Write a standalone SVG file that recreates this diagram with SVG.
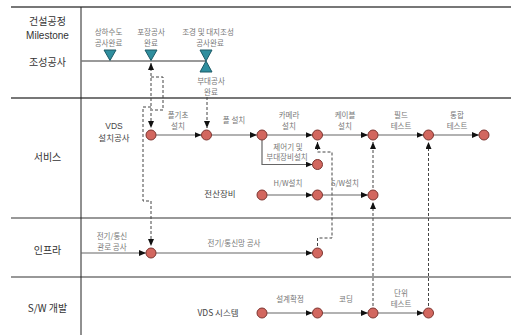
<svg xmlns="http://www.w3.org/2000/svg" width="511" height="335" viewBox="0 0 511 335">
<style>
.lane{font-family:"Noto Sans CJK KR","Liberation Sans",sans-serif;font-size:10px;fill:#333;text-anchor:middle}
.mid{font-family:"Noto Sans CJK KR","Liberation Sans",sans-serif;font-size:8.5px;fill:#444;text-anchor:middle}
.sm{font-family:"Noto Sans CJK KR","Liberation Sans",sans-serif;font-size:7.5px;fill:#777;text-anchor:middle}
.node{fill:#d2675f;stroke:#7d3530;stroke-width:1}
.ms{fill:#2f8e9e;stroke:#1c5a66;stroke-width:1}
.flow{fill:none;stroke:#666;stroke-width:1.2;marker-end:url(#ah)}
.dash{fill:none;stroke:#444;stroke-width:1;stroke-dasharray:3 2}
.grid{stroke:#333;stroke-width:1.2}
</style>
<defs>
<marker id="ah" markerUnits="userSpaceOnUse" markerWidth="7" markerHeight="6" refX="7" refY="3" orient="auto">
<path d="M0,0 L7,3 L0,6 Z" fill="#111"/>
</marker>
<marker id="ahs" markerUnits="userSpaceOnUse" markerWidth="7" markerHeight="6" refX="0" refY="3" orient="auto">
<path d="M7,0 L0,3 L7,6 Z" fill="#111"/>
</marker>
</defs>
<rect width="511" height="335" fill="#fff"/>
<g id="grid">
<line x1="11" y1="7" x2="511" y2="7" stroke="#777" stroke-width="2"/>
<line x1="11" y1="98" x2="511" y2="98" stroke="#777" stroke-width="2"/>
<line x1="11" y1="218" x2="511" y2="218" class="grid"/>
<line x1="11" y1="277" x2="511" y2="277" class="grid"/>
<line x1="81" y1="7" x2="81" y2="335" stroke="#222" stroke-width="1"/>
<line x1="81" y1="61" x2="206" y2="61" stroke="#777" stroke-width="1.3"/>
</g>
<g id="lanes">
<text class="lane" x="47.5" y="25">건설공정</text>
<text class="lane" x="47.5" y="38.5" style="font-family:'Liberation Sans',sans-serif">Milestone</text>
<text class="lane" x="47.5" y="66">조성공사</text>
<text class="lane" x="47.5" y="161">서비스</text>
<text class="lane" x="47.5" y="254">인프라</text>
<text class="lane" x="47.5" y="312">S/W 개발</text>
</g>
<g id="connectors">
<path class="dash" d="M151,63 V128" marker-start="url(#ahs)" marker-end="url(#ah)"/>
<path class="dash" d="M151,77 H163 V110 H152"/>
<path class="dash" d="M151,107 H143 V201 H151 V246" marker-end="url(#ah)"/>
<path class="dash" d="M207,97 V128" marker-end="url(#ah)"/>
<path class="dash" d="M317.5,246 V238 H332 V152 H317.5 V142" marker-end="url(#ah)"/>
<path class="dash" d="M373,306 V202" marker-end="url(#ah)"/>
<path class="dash" d="M373,188 V142" marker-end="url(#ah)"/>
<path class="dash" d="M428.5,306 V142" marker-end="url(#ah)"/>
<path class="flow" d="M156,135 H201.5"/>
<path class="flow" d="M211.5,135 H257"/>
<path class="flow" d="M267,135 H312.5"/>
<path class="flow" d="M322.5,135 H368"/>
<path class="flow" d="M378,135 H423.5"/>
<path class="flow" d="M433.5,135 H479"/>
<path class="flow" d="M262,140 V164.5 H312.5"/>
<path class="flow" d="M267,195 H312.5"/>
<path class="flow" d="M322.5,195 H368"/>
<path class="flow" d="M81,253 H146"/>
<path class="flow" d="M156,253 H312.5"/>
<path class="flow" d="M267,313 H312.5"/>
<path class="flow" d="M322.5,313 H368"/>
<path class="flow" d="M378,313 H423.5"/>
</g>
<g id="milestones">
<path class="ms" d="M104,50 H116 L110,60.5 Z"/>
<path class="ms" d="M145,50 H157 L151,60.5 Z"/>
<path class="ms" d="M200,50 H212 L206,61 Z"/>
<path class="ms" d="M206,61 L212,72 H200 Z"/>
<text class="sm" x="108.5" y="35">상하수도</text>
<text class="sm" x="108.5" y="45.5">공사완료</text>
<text class="sm" x="151" y="35">포장공사</text>
<text class="sm" x="151" y="45.5">완료</text>
<text class="sm" x="208" y="35">조경  및 대지조성</text>
<text class="sm" x="210" y="45.5">공사완료</text>
<text class="sm" x="211" y="84">부대공사</text>
<text class="sm" x="211" y="94.5">완료</text>
</g>
<g id="service">
<text class="mid" x="114" y="128.7" style="font-family:'Liberation Sans',sans-serif">VDS</text>
<text class="mid" x="114" y="140.5">설치공사</text>
<circle id="n-s1" class="node" cx="151" cy="135" r="5"/>
<circle id="n-s2" class="node" cx="206.5" cy="135" r="5"/>
<circle id="n-s3" class="node" cx="262" cy="135" r="5"/>
<circle id="n-s4" class="node" cx="317.5" cy="135" r="5"/>
<circle id="n-s5" class="node" cx="373" cy="135" r="5"/>
<circle id="n-s6" class="node" cx="428.5" cy="135" r="5"/>
<circle id="n-s7" class="node" cx="484" cy="135" r="5"/>
<circle id="n-s8" class="node" cx="317.5" cy="164.5" r="5"/>
<text class="sm" x="178" y="118">폴기초</text>
<text class="sm" x="178" y="128.5">설치</text>
<text class="sm" x="234" y="123">폴 설치</text>
<text class="sm" x="289" y="118">카메라</text>
<text class="sm" x="289" y="128.5">설치</text>
<text class="sm" x="345" y="118">케이블</text>
<text class="sm" x="345" y="128.5">설치</text>
<text class="sm" x="401" y="118">필드</text>
<text class="sm" x="401" y="128.5">테스트</text>
<text class="sm" x="457" y="118">통합</text>
<text class="sm" x="457" y="128.5">테스트</text>
<text class="sm" x="288" y="149.5">제어기 및</text>
<text class="sm" x="287" y="160">부대장비설치</text>
</g>
<g id="equipment">
<text class="mid" x="220" y="197">전산장비</text>
<circle id="n-e1" class="node" cx="262" cy="195" r="5"/>
<circle id="n-e2" class="node" cx="317.5" cy="195" r="5"/>
<circle id="n-e3" class="node" cx="373" cy="195" r="5"/>
<text class="sm" x="288" y="186">H/W설치</text>
<text class="sm" x="345" y="186">S/W설치</text>
</g>
<g id="infra">
<circle id="n-i1" class="node" cx="151" cy="253" r="5"/>
<circle id="n-i2" class="node" cx="317.5" cy="253" r="5"/>
<text class="sm" x="112" y="238.5">전기/통신</text>
<text class="sm" x="112" y="249.5">관로 공사</text>
<text class="sm" x="234" y="246">전기/통신망 공사</text>
</g>
<g id="sw">
<text class="mid" x="218" y="316">VDS 시스템</text>
<circle id="n-w1" class="node" cx="262" cy="313" r="5"/>
<circle id="n-w2" class="node" cx="317.5" cy="313" r="5"/>
<circle id="n-w3" class="node" cx="373" cy="313" r="5"/>
<circle id="n-w4" class="node" cx="428.5" cy="313" r="5"/>
<text class="sm" x="290" y="302">설계확정</text>
<text class="sm" x="346" y="302">코딩</text>
<text class="sm" x="401" y="296">단위</text>
<text class="sm" x="401" y="307">테스트</text>
</g>
</svg>
